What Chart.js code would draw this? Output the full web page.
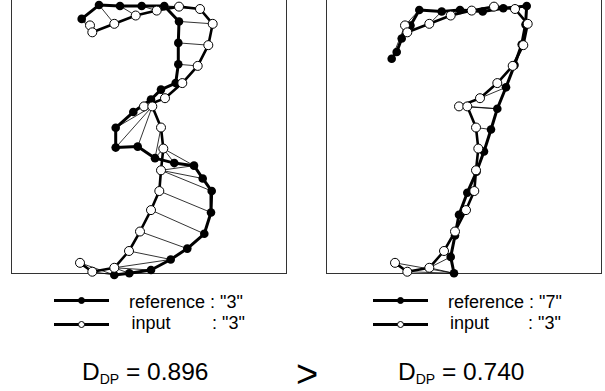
<!DOCTYPE html>
<html>
<head>
<meta charset="utf-8">
<script src="https://cdn.jsdelivr.net/npm/chart.js@4.4.0/dist/chart.umd.min.js"></script>
<style>
  html, body { margin: 0; padding: 0; background: #fff; }
  body { width: 605px; height: 391px; position: relative; overflow: hidden;
         font-family: "Liberation Sans", Arial, sans-serif; color: #000; }
  canvas { position: absolute; }
  #left { left: 0; top: -12px; }
  #right { left: 315px; top: -12px; }
  .lg-line { position: absolute; height: 3px; background: #000; }
  .lg-dot { position: absolute; width: 7px; height: 7px; border-radius: 50%;
            box-sizing: border-box; border: 1px solid #000; }
  .lg-text { position: absolute; font-size: 18px; line-height: 20px; white-space: pre; }
  .score { position: absolute; font-size: 24.5px; line-height: 26px; white-space: pre; }
  .score sub { font-size: 14px; vertical-align: -4px; }
  #gt { position: absolute; left: 296px; top: 354px; font-size: 38px; line-height: 40px; }
</style>
</head>
<body>
<canvas id="left" width="300" height="296"></canvas>
<canvas id="right" width="300" height="296"></canvas>
<div id="legends"></div>
<div class="score" style="left:82px; top:358.5px">D<sub>DP</sub> = 0.896</div>
<div id="gt">&gt;</div>
<div class="score" style="left:398px; top:358.5px">D<sub>DP</sub> = 0.740</div>

<script>
/* ----- dados (x, y em px dentro do quadro, y para cima) ----- */
// referência "3" (pontos pretos, painel esquerdo)
const refThree = [
  [70.7, 257.3], [88, 271.3], [109, 270.3], [130.7, 270.3], [153.3, 270.3],
  [168, 254.7], [167.3, 233], [167.3, 211.3], [164.7, 192.3], [150, 185.7],
  [140, 175.7], [122.3, 163], [104.7, 147], [104.7, 127], [126.7, 128],
  [144, 116.3], [163.3, 111.3], [183, 108.7], [191.7, 95.7], [200.7, 83],
  [200, 61.3], [193.3, 39.7], [176.3, 24.7], [159.7, 13.7], [140, 3],
  [118.3, -0.3], [103.3, -2]
];

// referência "7" (pontos pretos, painel direito)
const refSeven = [
  [65.7, 217], [70.7, 223.7], [75.7, 237.5], [84.5, 250.5], [93.3, 266.3],
  [115.7, 264.7], [134, 266.3], [156.7, 264.7], [177.3, 268], [200.7, 270.3],
  [199.5, 251.5], [195.7, 231.3], [188.5, 210.5], [180, 188], [171.3, 166.3],
  [165, 145.3], [158, 123], [150.5, 102.5], [141.3, 81.3], [133, 59],
  [129, 38], [124.7, 16.3], [128, -0.3]
];

// entrada "3" (pontos brancos, igual nos dois painéis)
const inputThree = [
  [79, 250.7], [81.3, 243.7], [103.3, 252.3], [124.7, 260.7], [145.7, 265.7],
  [168, 269.7], [189, 267.3], [201.7, 252.3], [197.3, 230.7], [186.7, 209.7],
  [171.3, 192.3], [154, 177], [133, 168.7], [141.3, 168.7], [150, 147.3],
  [152.3, 126], [150, 104], [148.3, 83], [140, 63.7], [129, 42],
  [118, 22.3], [103.3, 5.3], [81.3, 1.3], [69, 10.3]
];

// caminho de correspondência DP: [índice referência, índice entrada]
const matchLeft = [
  [0, 0], [0, 1], [1, 2], [2, 3], [3, 4], [4, 4], [4, 5], [4, 6], [5, 7], [6, 8],
  [7, 9], [8, 10], [9, 11], [10, 12], [11, 12], [12, 13], [13, 13], [14, 13],
  [15, 14], [15, 15], [16, 15], [17, 15], [17, 16], [18, 16], [19, 16], [20, 17],
  [21, 18], [22, 19], [23, 20], [23, 21], [24, 21], [25, 21], [26, 22], [26, 23]
];
const matchRight = [
  [0, 0], [1, 0], [2, 0], [3, 0], [4, 0], [4, 1], [5, 2], [6, 3], [7, 4], [8, 5],
  [9, 6], [10, 7], [11, 8], [12, 9], [13, 10], [13, 11], [14, 12], [14, 13],
  [15, 14], [16, 15], [17, 16], [18, 17], [19, 18], [20, 19], [21, 20], [21, 21],
  [22, 21], [22, 22], [22, 23]
];

const legendLeft = ['reference : "3"', 'input', ': "3"'];
const legendRight = ['reference : "7"', 'input', ': "3"'];

/* ----- utilidades ----- */
const toPoints = arr => arr.map(([x, y]) => ({ x, y }));

function linkPoints(ref, inp, pairs) {
  const out = [];
  pairs.forEach(([r, i]) => {
    out.push({ x: ref[r][0], y: ref[r][1] });
    out.push({ x: inp[i][0], y: inp[i][1] });
    out.push({ x: inp[i][0], y: null }); // quebra a linha
  });
  return out;
}

// moldura do quadro, desenhada antes dos pontos
const boxPlugin = {
  id: 'box',
  beforeDatasetsDraw(chart) {
    const { ctx, chartArea: a } = chart;
    ctx.save();
    ctx.strokeStyle = '#333';
    ctx.lineWidth = 1;
    ctx.strokeRect(a.left + 0.5, a.top + 0.5, a.right - a.left - 1, a.bottom - a.top - 1);
    ctx.restore();
  }
};

function criarPainel(id, ref, pairs) {
  const ctx = document.getElementById(id).getContext('2d');
  return new Chart(ctx, {
    type: 'scatter',
    data: {
      datasets: [
        {
          label: 'input',
          data: toPoints(inputThree),
          showLine: true,
          borderColor: '#000',
          borderWidth: 2.6,
          pointRadius: 4.5,
          pointBackgroundColor: '#fff',
          pointBorderColor: '#000',
          pointBorderWidth: 1,
          clip: false
        },
        {
          label: 'reference',
          data: toPoints(ref),
          showLine: true,
          borderColor: '#000',
          borderWidth: 3,
          pointRadius: 4.3,
          pointBackgroundColor: '#000',
          pointBorderColor: '#000',
          pointBorderWidth: 0,
          clip: false
        },
        {
          label: 'match',
          data: linkPoints(ref, inputThree, pairs),
          showLine: true,
          spanGaps: false,
          borderColor: '#000',
          borderWidth: 0.8,
          pointRadius: 0,
          clip: false
        }
      ]
    },
    options: {
      responsive: false,
      animation: false,
      devicePixelRatio: 1,
      layout: { padding: { left: 11, right: 13, top: 2, bottom: 10 } },
      elements: { line: { tension: 0, borderJoinStyle: 'round', borderCapStyle: 'round' } },
      plugins: { legend: { display: false }, tooltip: { enabled: false } },
      scales: {
        x: { type: 'linear', min: 0, max: 276, display: false },
        y: { type: 'linear', min: -1, max: 283, display: false }
      }
    },
    plugins: [boxPlugin]
  });
}

/* ----- legendas (linha + marcador + texto) ----- */
function criarLegenda(x0, textX, inputX, colonX, labels) {
  const box = document.getElementById('legends');
  const rows = [{ y: 300.5, fill: '#000' }, { y: 324.5, fill: '#fff' }];
  rows.forEach(row => {
    const line = document.createElement('div');
    line.className = 'lg-line';
    line.style.left = x0 + 'px';
    line.style.top = (row.y - 1.5) + 'px';
    line.style.width = '55px';
    box.appendChild(line);

    const dot = document.createElement('div');
    dot.className = 'lg-dot';
    dot.style.left = (x0 + 24) + 'px';
    dot.style.top = (row.y - 3.5) + 'px';
    dot.style.background = row.fill;
    box.appendChild(dot);
  });

  const textos = [
    { x: textX, y: 292, t: labels[0] },
    { x: inputX, y: 313, t: labels[1] },
    { x: colonX, y: 313, t: labels[2] }
  ];
  textos.forEach(o => {
    const el = document.createElement('div');
    el.className = 'lg-text';
    el.style.left = o.x + 'px';
    el.style.top = o.y + 'px';
    el.textContent = o.t;
    box.appendChild(el);
  });
}

/* ----- inicialização ----- */
criarPainel('left', refThree, matchLeft);
criarPainel('right', refSeven, matchRight);
criarLegenda(54, 129, 131.5, 212, legendLeft);
criarLegenda(373, 448, 450, 528, legendRight);
</script>
</body>
</html>
